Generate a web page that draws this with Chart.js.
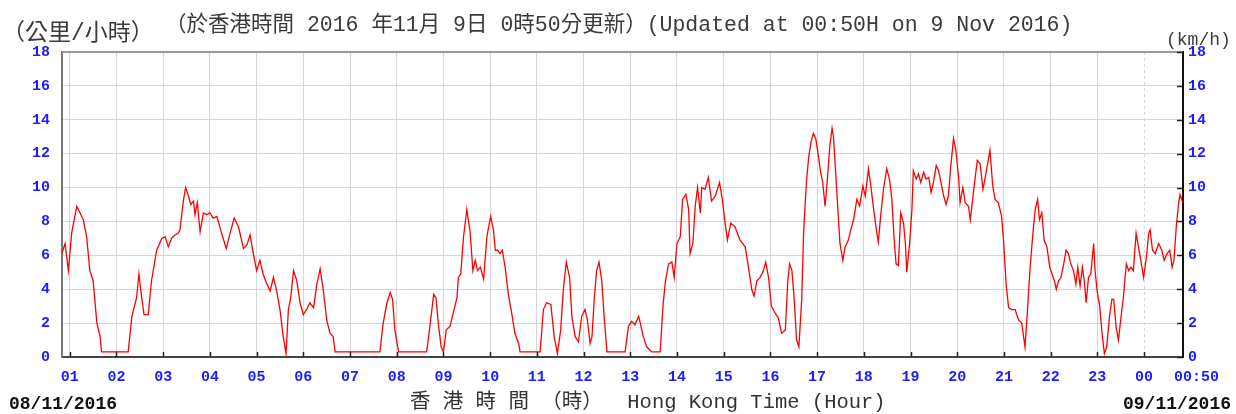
<!DOCTYPE html>
<html>
<head>
<meta charset="utf-8">
<script src="https://cdn.jsdelivr.net/npm/chart.js@4.4.1/dist/chart.umd.min.js"></script>
<style>
html,body{margin:0;padding:0;background:#fff;}
#wrap{width:1236px;height:414px;position:relative;}
</style>
</head>
<body>
<div id="wrap"><canvas id="c" width="1236" height="414"></canvas></div>
<script>
// ---- data ----
// time of each reading, in hours since 00:00 on 08/11/2016
const timeHours = [
0.83,0.90,0.97,1.04,1.08,1.15,1.22,1.29,1.36,1.43,1.50,1.58,1.65,1.68,2.25,2.33,2.43,2.48,2.54,2.59,2.68,2.75,2.86,2.97,3.04,3.11,3.18,3.25,3.32,3.36,3.43,3.48,3.54,3.59,3.65,3.68,3.73,3.79,3.86,3.93,4.00,4.07,4.15,4.25,4.35,4.43,4.52,4.61,4.72,4.79,4.86,4.93,5.00,5.07,5.14,5.22,5.29,5.36,5.43,5.50,5.57,5.63,5.68,5.73,5.79,5.86,5.93,6.00,6.07,6.14,6.22,6.29,6.36,6.43,6.50,6.57,6.64,6.68,
7.64,7.71,7.79,7.86,7.91,7.96,8.04,8.64,8.71,8.79,8.84,8.89,8.95,9.00,9.06,9.14,9.21,9.29,9.32,9.37,9.43,9.50,9.57,9.63,9.68,9.73,9.79,9.86,9.93,10.01,10.07,10.11,10.16,10.21,10.26,10.32,10.39,10.46,10.53,10.61,10.64,11.07,11.14,11.21,11.30,11.37,11.44,11.51,11.57,11.63,11.70,11.75,11.82,11.89,11.96,12.03,12.08,12.14,12.18,12.23,12.28,12.33,12.39,12.44,12.50,12.89,12.96,13.03,13.10,13.18,
13.28,13.35,13.46,13.64,13.70,13.75,13.82,13.89,13.94,14.00,14.07,14.12,14.19,14.25,14.28,14.34,14.39,14.44,14.50,14.53,14.60,14.67,14.74,14.82,14.91,14.97,15.03,15.08,15.15,15.24,15.35,15.46,15.53,15.60,15.65,15.71,15.78,15.85,15.90,15.96,16.02,16.10,16.17,16.24,16.32,16.37,16.41,16.46,16.51,16.56,16.61,16.67,16.71,16.77,16.82,16.87,16.92,16.97,17.01,17.07,17.12,17.17,17.22,17.27,17.32,17.35,17.39,17.44,17.49,17.55,17.60,17.67,17.72,17.78,17.85,17.91,17.98,18.03,18.10,18.15,18.21,18.28,18.31,18.36,18.42,18.49,18.55,18.60,18.65,18.69,18.74,18.79,18.85,18.89,18.92,18.98,19.03,19.06,19.12,19.17,19.22,19.28,19.33,19.39,19.44,19.49,19.55,19.60,
19.63,19.71,19.76,19.81,19.86,19.92,19.97,20.03,20.06,20.12,20.17,20.24,20.28,20.33,20.38,20.43,20.49,20.55,20.60,20.65,20.70,20.76,20.81,20.88,20.95,20.99,21.05,21.10,21.17,21.24,21.31,21.38,21.45,21.50,21.56,21.62,21.67,21.72,21.76,21.81,21.86,21.92,21.98,22.03,22.08,22.12,22.17,22.22,22.28,22.33,22.38,22.43,22.49,22.54,22.58,22.63,22.68,22.72,22.76,22.81,22.86,22.92,22.95,23.00,23.05,23.10,23.15,23.20,23.26,23.31,23.35,23.40,23.45,23.50,23.56,23.62,23.67,23.72,23.77,23.83,23.88,23.93,23.99,24.05,24.10,24.13,24.18,24.24,24.31,24.38,24.43,24.49,24.55,24.60,24.64,24.69,24.74,24.77,24.83
];
// wind speed (km/h) at each time above
const speedKmh = [
6.1,6.7,5.1,7.3,7.9,8.9,8.5,8.1,7.1,5.1,4.5,2.0,1.2,0.3,0.3,2.4,3.5,4.9,3.5,2.5,2.5,4.5,6.3,7.0,7.1,6.5,7.0,7.2,7.3,7.5,9.2,10.0,9.5,9.0,9.2,8.4,9.1,7.4,8.5,8.4,8.5,8.2,8.3,7.3,6.4,7.3,8.2,7.7,6.4,6.6,7.2,6.1,5.1,5.7,4.9,4.3,3.9,4.7,3.9,2.8,1.2,0.2,2.8,3.5,5.1,4.5,3.2,2.5,2.8,3.2,2.9,4.3,5.2,3.9,2.2,1.4,1.2,0.3,
0.3,2.0,3.2,3.8,3.4,1.6,0.3,0.3,1.8,3.7,3.5,2.0,0.6,0.3,1.6,1.8,2.6,3.5,4.7,4.9,7.1,8.7,7.4,5.1,5.7,5.1,5.3,4.6,7.1,8.3,7.5,6.3,6.3,6.1,6.3,5.3,3.7,2.6,1.4,0.8,0.3,0.3,2.8,3.2,3.1,1.2,0.2,1.6,4.1,5.6,4.7,2.4,1.2,0.9,2.4,2.8,2.2,0.8,1.2,3.5,5.1,5.6,4.5,2.4,0.3,0.3,1.8,2.1,1.9,2.4,
1.2,0.6,0.3,0.3,3.0,4.4,5.5,5.6,4.7,6.7,7.1,9.3,9.6,8.7,6.1,6.7,8.9,10.0,8.5,10.0,9.9,10.6,9.2,9.5,10.3,9.3,7.9,6.9,7.9,7.7,6.9,6.5,5.3,4.0,3.6,4.5,4.7,5.1,5.6,4.7,3.0,2.6,2.3,1.4,1.6,4.4,5.5,5.1,3.4,1.0,0.6,3.4,7.3,10.3,11.8,12.7,13.2,12.9,12.2,11.0,10.3,8.9,10.5,12.4,13.5,13.0,11.2,8.9,6.7,5.7,6.5,6.9,7.5,8.1,9.3,8.9,10.1,9.5,11.1,10.1,8.7,7.3,6.8,8.3,9.9,11.1,10.5,9.3,6.9,5.5,5.4,8.5,7.9,6.7,5.0,6.7,8.7,11.0,10.5,10.8,10.3,10.9,10.5,10.6,9.7,10.3,11.3,11.0,
10.6,9.5,9.0,9.5,11.2,12.9,12.2,10.6,9.1,10.0,9.1,8.9,8.1,9.3,10.5,11.6,11.4,9.9,10.6,11.4,12.2,10.1,9.3,9.1,8.3,6.9,4.2,2.9,2.8,2.8,2.2,2.0,0.6,2.6,5.3,7.3,8.7,9.3,8.1,8.5,6.9,6.5,5.3,4.9,4.5,4.0,4.5,4.7,5.5,6.3,6.1,5.5,5.1,4.3,5.3,4.2,5.3,4.5,3.2,4.7,4.9,6.7,5.1,3.8,3.0,1.4,0.2,0.6,2.4,3.4,3.4,1.8,1.0,2.2,3.6,5.5,5.1,5.3,5.1,7.3,6.5,5.7,4.7,5.9,7.3,7.5,6.3,6.1,6.7,6.3,5.7,6.1,6.3,5.3,5.7,7.7,9.1,9.6,9.1
];
// x axis: 24-hour window ending 00:50 on 09/11/2016
const windowStartHour = 50 / 60;
const windowEndHour = 24 + 50 / 60;
const tickHours = [1,2,3,4,5,6,7,8,9,10,11,12,13,14,15,16,17,18,19,20,21,22,23,24, 24 + 50 / 60];
const tickLabels = ['01','02','03','04','05','06','07','08','09','10','11','12','13','14','15','16','17','18','19','20','21','22','23','00','   00:50'];
const yTicks = [0,2,4,6,8,10,12,14,16,18];

// texts
const titleText = '（於香港時間 2016 年11月 9日 0時50分更新）(Updated at 00:50H on 9 Nov 2016)';
const unitLeft = '（公里/小時）';
const unitRight = '(km/h)';
const xTitle = '香 港 時 間 （時）  Hong Kong Time (Hour)';
const startDate = '08/11/2016';
const endDate = '09/11/2016';

const monoCJK = '"Liberation Mono", "Noto Sans CJK TC", monospace';
const tickFont = {family: '"Liberation Mono", monospace', size: 15, weight: 'bold'};
const tickBlue = '#1c1cff';
const gridGrey = '#d6d6d6';

const overlay = {
  id: 'overlay',
  afterDraw(chart) {
    const {ctx, chartArea: a, scales} = chart;
    ctx.save();
    // top frame line
    ctx.strokeStyle = '#999'; ctx.lineWidth = 2;
    ctx.beginPath(); ctx.moveTo(a.left, a.top); ctx.lineTo(a.right, a.top); ctx.stroke();
    // inward tick marks
    ctx.strokeStyle = '#222'; ctx.lineWidth = 1.5;
    tickHours.slice(0, -1).forEach(v => {
      const x = Math.round(scales.x.getPixelForValue(v)) + 0.5;
      ctx.beginPath(); ctx.moveTo(x, a.bottom); ctx.lineTo(x, a.bottom - 5); ctx.stroke();
    });
    yTicks.forEach(v => {
      const y = Math.round(scales.y2.getPixelForValue(v)) + 0.5;
      ctx.beginPath(); ctx.moveTo(a.right, y); ctx.lineTo(a.right - 6, y); ctx.stroke();
    });
    // texts
    ctx.textBaseline = 'middle';
    ctx.fillStyle = '#3a3a3a';
    ctx.textAlign = 'left';
    ctx.font = '21.5px ' + monoCJK;
    ctx.fillText(titleText, 165, 25);
    ctx.font = '23px ' + monoCJK;
    ctx.fillText(unitLeft, 2, 34);
    ctx.font = '18px ' + monoCJK;
    ctx.fillText(unitRight, 1166, 40);
    ctx.font = '20.5px ' + monoCJK;
    ctx.fillStyle = '#333';
    ctx.fillText(xTitle, 410, 403);
    ctx.fillStyle = '#111';
    ctx.font = 'bold 18px "Liberation Mono", monospace';
    ctx.fillText(startDate, 9, 404);
    ctx.textAlign = 'right';
    ctx.fillText(endDate, 1231, 404);
    ctx.restore();
  }
};

new Chart(document.getElementById('c'), {
  type: 'line',
  data: {
    datasets: [{
      data: timeHours.map((t, i) => ({x: t, y: speedKmh[i]})),
      borderColor: '#ff0000',
      borderWidth: 1.3,
      pointRadius: 0,
      tension: 0,
      fill: false,
      yAxisID: 'y'
    }]
  },
  options: {
    responsive: false,
    animation: false,
    devicePixelRatio: 1,
    layout: {padding: {top: 52, left: 0, right: 0, bottom: 0}},
    plugins: {legend: {display: false}, tooltip: {enabled: false}, title: {display: false}},
    scales: {
      x: {
        type: 'linear', position: 'bottom',
        min: windowStartHour, max: windowEndHour,
        afterBuildTicks: s => { s.ticks = tickHours.map(v => ({value: v})); },
        afterFit: s => { s.height = 57; },
        ticks: {autoSkip: false, maxRotation: 0, minRotation: 0, padding: 11, color: tickBlue, font: tickFont,
                callback: (v, i) => tickLabels[i]},
        grid: {color: c => (c.index === tickHours.length - 1 ? 'rgba(0,0,0,0)' : gridGrey), lineWidth: 1, drawTicks: false},
        border: {display: true, color: '#444', width: 2,
                 dash: c => (c.tick && c.tick.value === 24 ? [3, 3] : [])}
      },
      y: {
        position: 'left', min: 0, max: 18,
        afterBuildTicks: s => { s.ticks = yTicks.map(v => ({value: v})); },
        afterFit: s => { s.width = 62; },
        ticks: {padding: 12, color: tickBlue, font: tickFont},
        grid: {color: gridGrey, lineWidth: 1, drawTicks: false},
        border: {display: true, color: '#777', width: 2}
      },
      y2: {
        position: 'right', min: 0, max: 18,
        afterBuildTicks: s => { s.ticks = yTicks.map(v => ({value: v})); },
        afterFit: s => { s.width = 53; },
        ticks: {padding: 5, color: tickBlue, font: tickFont},
        grid: {drawOnChartArea: false, drawTicks: false},
        border: {display: true, color: '#111', width: 2}
      }
    }
  },
  plugins: [overlay]
});
</script>
</body>
</html>
